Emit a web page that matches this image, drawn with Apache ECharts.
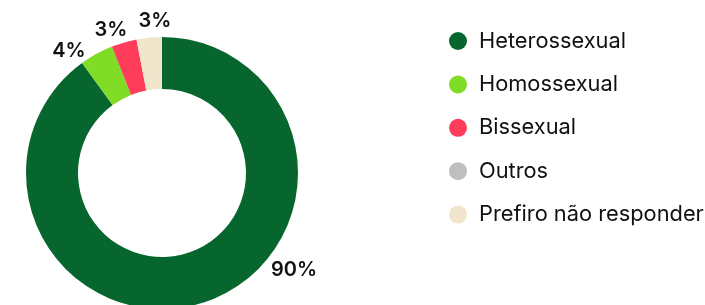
<!DOCTYPE html>
<html>
<head>
<meta charset="utf-8">
<script src="https://cdn.jsdelivr.net/npm/echarts@6/dist/echarts.min.js"></script>
<style>
  html, body { margin: 0; padding: 0; background: #fff; }
  #main { width: 705px; height: 305px; }
</style>
</head>
<body>
<div id="main"></div>
<script>
const categories = ["Heterossexual", "Homossexual", "Bissexual", "Outros", "Prefiro não responder"];
const values = [90, 4, 3, 0, 3];
const colors = ["#07662e", "#80dc26", "#ff3d5a", "#bfbfbf", "#f1e5cb"];

// where each percentage label sits (label centres, not marks)
const labelSpots = [[294, 270], [69, 51], [111, 30], null, [155, 21]];

const chart = echarts.init(document.getElementById("main"));

const option = {
  animation: false,
  color: colors,
  legend: {
    orient: "vertical",
    left: 444,
    top: 25,
    icon: "circle",
    itemWidth: 18,
    itemHeight: 18,
    itemGap: 21.4,
    data: categories,
    textStyle: {
      fontFamily: "Inter",
      fontSize: 21.8,
      lineHeight: 18,
      color: "#111",
      padding: [0, 0, 0, 7]
    }
  },
  series: [
    {
      type: "pie",
      center: [162, 173],
      radius: [84, 136],
      startAngle: 90,
      clockwise: true,
      avoidLabelOverlap: false,
      data: categories.map((name, i) => ({ name: name, value: values[i] })),
      label: {
        show: true,
        position: "outside",
        fontFamily: "Inter",
        fontSize: 20,
        fontWeight: 600,
        color: "#111",
        formatter: (p) => (p.value > 0 ? p.value + "%" : "")
      },
      labelLine: { show: false },
      labelLayout: function (params) {
        const spot = labelSpots[params.dataIndex];
        if (!spot) return {};
        return { x: spot[0], y: spot[1], align: "center", verticalAlign: "middle", hideOverlap: false };
      },
      emphasis: { disabled: true }
    }
  ]
};

chart.setOption(option);
</script>
</body>
</html>
